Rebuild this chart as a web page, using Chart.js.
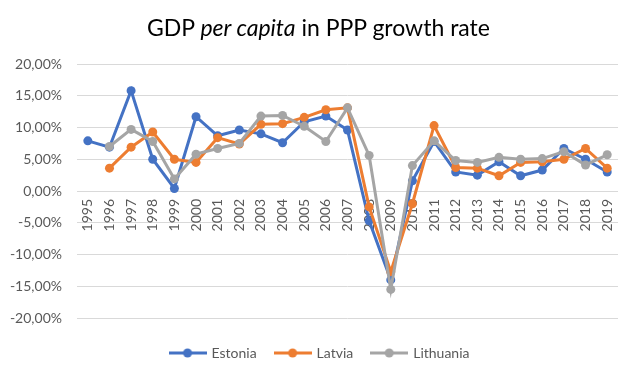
<!DOCTYPE html>
<html><head><meta charset="utf-8">
<script src="https://cdn.jsdelivr.net/npm/chart.js@4"></script>
<style>
html,body{margin:0;padding:0;background:#fff;}
#wrap{position:relative;width:637px;height:376px;overflow:hidden;}
#title{position:absolute;left:0;top:13px;width:637px;text-align:center;font-family:Lato,'Open Sans',sans-serif;font-size:23px;color:#000;line-height:28px;white-space:nowrap;}
canvas{position:absolute;left:0;top:0;}
</style></head><body>
<div id="wrap"><canvas id="c" width="637" height="376" style="width:637px;height:376px"></canvas><div id="title">GDP <i>per capita</i> in PPP growth rate</div></div>
<script>
const years = ['1995','1996','1997','1998','1999','2000','2001','2002','2003','2004','2005','2006','2007','2008','2009','2010','2011','2012','2013','2014','2015','2016','2017','2018','2019'];
const estonia = [7.9, 6.9, 15.8, 5.0, 0.4, 11.7, 8.7, 9.6, 9.0, 7.6, 10.9, 11.8, 9.6, -4.7, -14.0, 1.6, 7.8, 3.0, 2.5, 4.6, 2.4, 3.3, 6.7, 5.0, 3.0];
const latvia = [null, 3.6, 6.9, 9.3, 5.0, 4.5, 8.4, 7.4, 10.5, 10.6, 11.6, 12.8, 13.1, -2.5, -12.7, -2.0, 10.3, 3.7, 3.6, 2.4, 4.5, 4.6, 5.0, 6.7, 3.6];
const lithuania = [null, 7.0, 9.7, 7.8, 1.9, 5.8, 6.7, 7.5, 11.8, 11.9, 10.2, 7.8, 13.1, 5.6, -15.5, 4.0, 7.9, 4.8, 4.5, 5.3, 5.0, 5.1, 6.2, 4.1, 5.7];
const seriesNames = ['Estonia', 'Latvia', 'Lithuania'];
const seriesColors = ['#4472C4', '#ED7D31', '#A5A5A5'];
const yMin = -20, yMax = 20, yStep = 5;

function legendIcon(color) {
  const c = document.createElement('canvas');
  c.width = 38; c.height = 12;
  const g = c.getContext('2d');
  g.strokeStyle = color; g.lineWidth = 3;
  g.beginPath(); g.moveTo(0, 6); g.lineTo(38, 6); g.stroke();
  g.fillStyle = color;
  g.beginPath(); g.arc(19, 6, 4.5, 0, Math.PI * 2); g.fill();
  return c;
}
const icons = seriesColors.map(legendIcon);
const values = [estonia, latvia, lithuania];
const FONT = "Lato, 'Open Sans', sans-serif";

const shiftLegend = {
  id: 'shiftLegend',
  afterLayout(chart) {
    const lg = chart.legend;
    if (lg) { lg.left += 11; lg.right += 11; lg.top += 9; lg.bottom += 9; }
  }
};

new Chart(document.getElementById('c'), {
  type: 'line',
  plugins: [shiftLegend],
  data: {
    labels: years,
    datasets: values.map((v, i) => ({
      label: seriesNames[i],
      data: v,
      borderColor: seriesColors[i],
      backgroundColor: seriesColors[i],
      borderWidth: 3,
      pointRadius: 4.5,
      pointHoverRadius: 4.5,
      pointBorderWidth: 0,
      tension: 0,
      order: 3 - i
    }))
  },
  options: {
    responsive: false,
    animation: false,
    layout: { padding: { top: 64, right: 19, bottom: 15, left: 0 } },
    plugins: {
      title: { display: false },
      tooltip: { enabled: false },
      legend: {
        position: 'bottom',
        labels: {
          usePointStyle: true,
          pointStyleWidth: 34,
          boxHeight: 12,
          padding: 19,
          color: '#595959',
          font: { family: FONT, size: 14 },
          generateLabels: (chart) => seriesNames.map((n, i) => ({
            text: n, datasetIndex: i, pointStyle: icons[i],
            fillStyle: seriesColors[i], strokeStyle: seriesColors[i], lineWidth: 0,
            hidden: false, fontColor: '#595959'
          }))
        }
      }
    },
    scales: {
      x: {
        position: { y: 0 },
        offset: true,
        z: 1,
        grid: { display: false, drawTicks: false },
        border: { display: false },
        ticks: { minRotation: 90, maxRotation: 90, autoSkip: false, padding: 8, color: '#595959', font: { family: FONT, size: 14 } },
        afterFit: (s) => { s.height = 0; }
      },
      y: {
        min: yMin, max: yMax,
        grid: { color: '#D9D9D9', lineWidth: 1, drawTicks: false },
        border: { display: false },
        ticks: {
          stepSize: yStep, padding: 15, color: '#595959',
          font: { family: FONT, size: 14 },
          callback: (v) => v.toFixed(2).replace('.', ',') + '%'
        },
        afterFit: (s) => { s.width = 77; }
      }
    }
  }
});
</script>
</body></html>
